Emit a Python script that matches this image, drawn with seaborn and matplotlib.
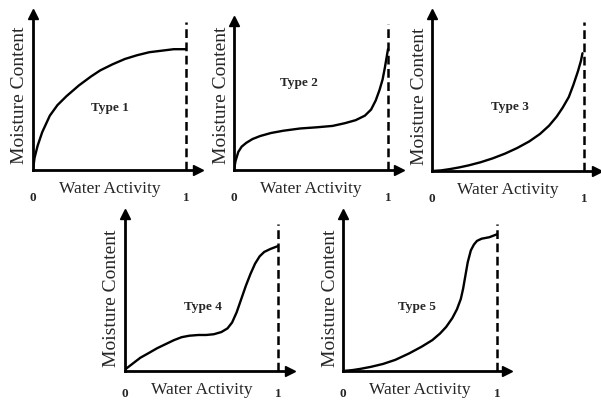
import matplotlib
matplotlib.use("Agg")
import matplotlib.pyplot as plt
import seaborn as sns

# ---- curve data (water activity, moisture content) ----
type1_x = [0, 0.01, 0.03, 0.06, 0.11, 0.16, 0.22, 0.30, 0.38, 0.44, 0.52, 0.60, 0.68, 0.76, 0.84, 0.92, 0.99, 1.0]
type1_y = [0, 0.08, 0.16, 0.25, 0.36, 0.43, 0.49, 0.56, 0.62, 0.66, 0.70, 0.735, 0.76, 0.78, 0.79, 0.80, 0.80, 0.80]

type2_x = [0, 0.01, 0.028, 0.05, 0.08, 0.12, 0.17, 0.24, 0.32, 0.43, 0.54, 0.64, 0.72, 0.79, 0.85, 0.89, 0.92, 0.945, 0.965, 0.98, 0.99, 1.0]
type2_y = [0, 0.06, 0.12, 0.155, 0.18, 0.205, 0.225, 0.245, 0.26, 0.275, 0.283, 0.292, 0.31, 0.33, 0.36, 0.40, 0.46, 0.53, 0.60, 0.68, 0.74, 0.80]

type3_x = [0, 0.06, 0.12, 0.18, 0.24, 0.32, 0.40, 0.48, 0.56, 0.64, 0.71, 0.77, 0.82, 0.86, 0.90, 0.93, 0.96, 0.98, 0.99]
type3_y = [0, 0.004, 0.013, 0.024, 0.037, 0.058, 0.084, 0.115, 0.152, 0.196, 0.245, 0.30, 0.36, 0.42, 0.49, 0.57, 0.66, 0.73, 0.78]

type4_x = [0, 0.05, 0.10, 0.16, 0.21, 0.27, 0.32, 0.37, 0.42, 0.48, 0.53, 0.58, 0.63, 0.67, 0.70, 0.73, 0.76, 0.79, 0.82, 0.85, 0.88, 0.91, 0.95, 1.0]
type4_y = [0.01, 0.05, 0.09, 0.125, 0.155, 0.185, 0.21, 0.23, 0.24, 0.245, 0.245, 0.25, 0.265, 0.29, 0.33, 0.40, 0.49, 0.58, 0.66, 0.73, 0.78, 0.81, 0.83, 0.85]

type5_x = [0, 0.06, 0.11, 0.18, 0.26, 0.34, 0.43, 0.51, 0.58, 0.63, 0.67, 0.71, 0.74, 0.765, 0.78, 0.795, 0.81, 0.83, 0.85, 0.87, 0.90, 0.95, 1.0]
type5_y = [0, 0.006, 0.014, 0.028, 0.048, 0.076, 0.12, 0.165, 0.21, 0.255, 0.30, 0.36, 0.42, 0.49, 0.56, 0.65, 0.74, 0.82, 0.86, 0.885, 0.90, 0.91, 0.93]

type_labels = ["Type 1", "Type 2", "Type 3", "Type 4", "Type 5"]
xlabel = "Water Activity"
ylabel = "Moisture Content"

# panel layout in pixels: origin x, origin y, px per unit x, px per unit y, xmax, ymax
panels = [
    (33, 171, 153, 151, 1.08, 1.03),
    (234, 171, 154, 151, 1.07, 0.99),
    (432, 172, 152, 151, 1.085, 1.04),
    (125, 372, 153, 147, 1.08, 1.07),
    (343, 372, 154, 147, 1.065, 1.07),
]
label_pos = [(0.50, 0.42), (0.42, 0.58), (0.51, 0.43), (0.51, 0.44), (0.48, 0.44)]
dash_top = [0.98, 0.97, 0.99, 1.0, 1.0]
num_offset = [27, 27, 27, 22, 22]  # px below the x axis for the 0 / 1 marks
curves = [(type1_x, type1_y), (type2_x, type2_y), (type3_x, type3_y),
          (type4_x, type4_y), (type5_x, type5_y)]

sns.set_style("white")
plt.rcParams["font.family"] = ["Liberation Serif", "DejaVu Serif"]

W, H = 601, 402
fig = plt.figure(figsize=(W / 100, H / 100), dpi=100)

for i, (ox, oy, ux, uy, xmax, ymax) in enumerate(panels):
    ax = fig.add_axes([ox / W, (H - oy) / H, ux * xmax / W, uy * ymax / H])
    ax.set_xlim(0, xmax)
    ax.set_ylim(0, ymax)
    ax.patch.set_alpha(0)
    for side in ["top", "right"]:
        ax.spines[side].set_visible(False)
    for side in ["left", "bottom"]:
        ax.spines[side].set_linewidth(2.0)
        ax.spines[side].set_color("black")
    ax.set_xticks([])
    ax.set_yticks([])

    # arrow heads on the axes
    ax.plot(0, 1, "^k", transform=ax.get_xaxis_transform(), clip_on=False, markersize=7)
    ax.plot(1, 0, ">k", transform=ax.get_yaxis_transform(), clip_on=False, markersize=7)

    # dashed limit at aw = 1
    ax.vlines(1, 0, dash_top[i], colors="black", linestyles=(0, (3.5, 1.8)), lw=1.8)

    cx, cy = curves[i]
    sns.lineplot(x=cx, y=cy, ax=ax, color="black", lw=1.7, sort=False, estimator=None)

    ax.text(label_pos[i][0], label_pos[i][1], type_labels[i], fontsize=9.5,
            fontweight="bold", ha="center", va="center")
    ax.text(0.5, -18 / uy, xlabel, fontsize=12.5, ha="center", va="center", clip_on=False)
    ax.text(-13 / ux, 0.5, ylabel, fontsize=14, rotation=90, ha="center", va="center", clip_on=False)
    ax.text(0, -num_offset[i] / uy, "0", fontsize=9.5, fontweight="bold", ha="center", va="center", clip_on=False)
    ax.text(1, -num_offset[i] / uy, "1", fontsize=9.5, fontweight="bold", ha="center", va="center", clip_on=False)

fig.savefig("out.png", dpi=100)
